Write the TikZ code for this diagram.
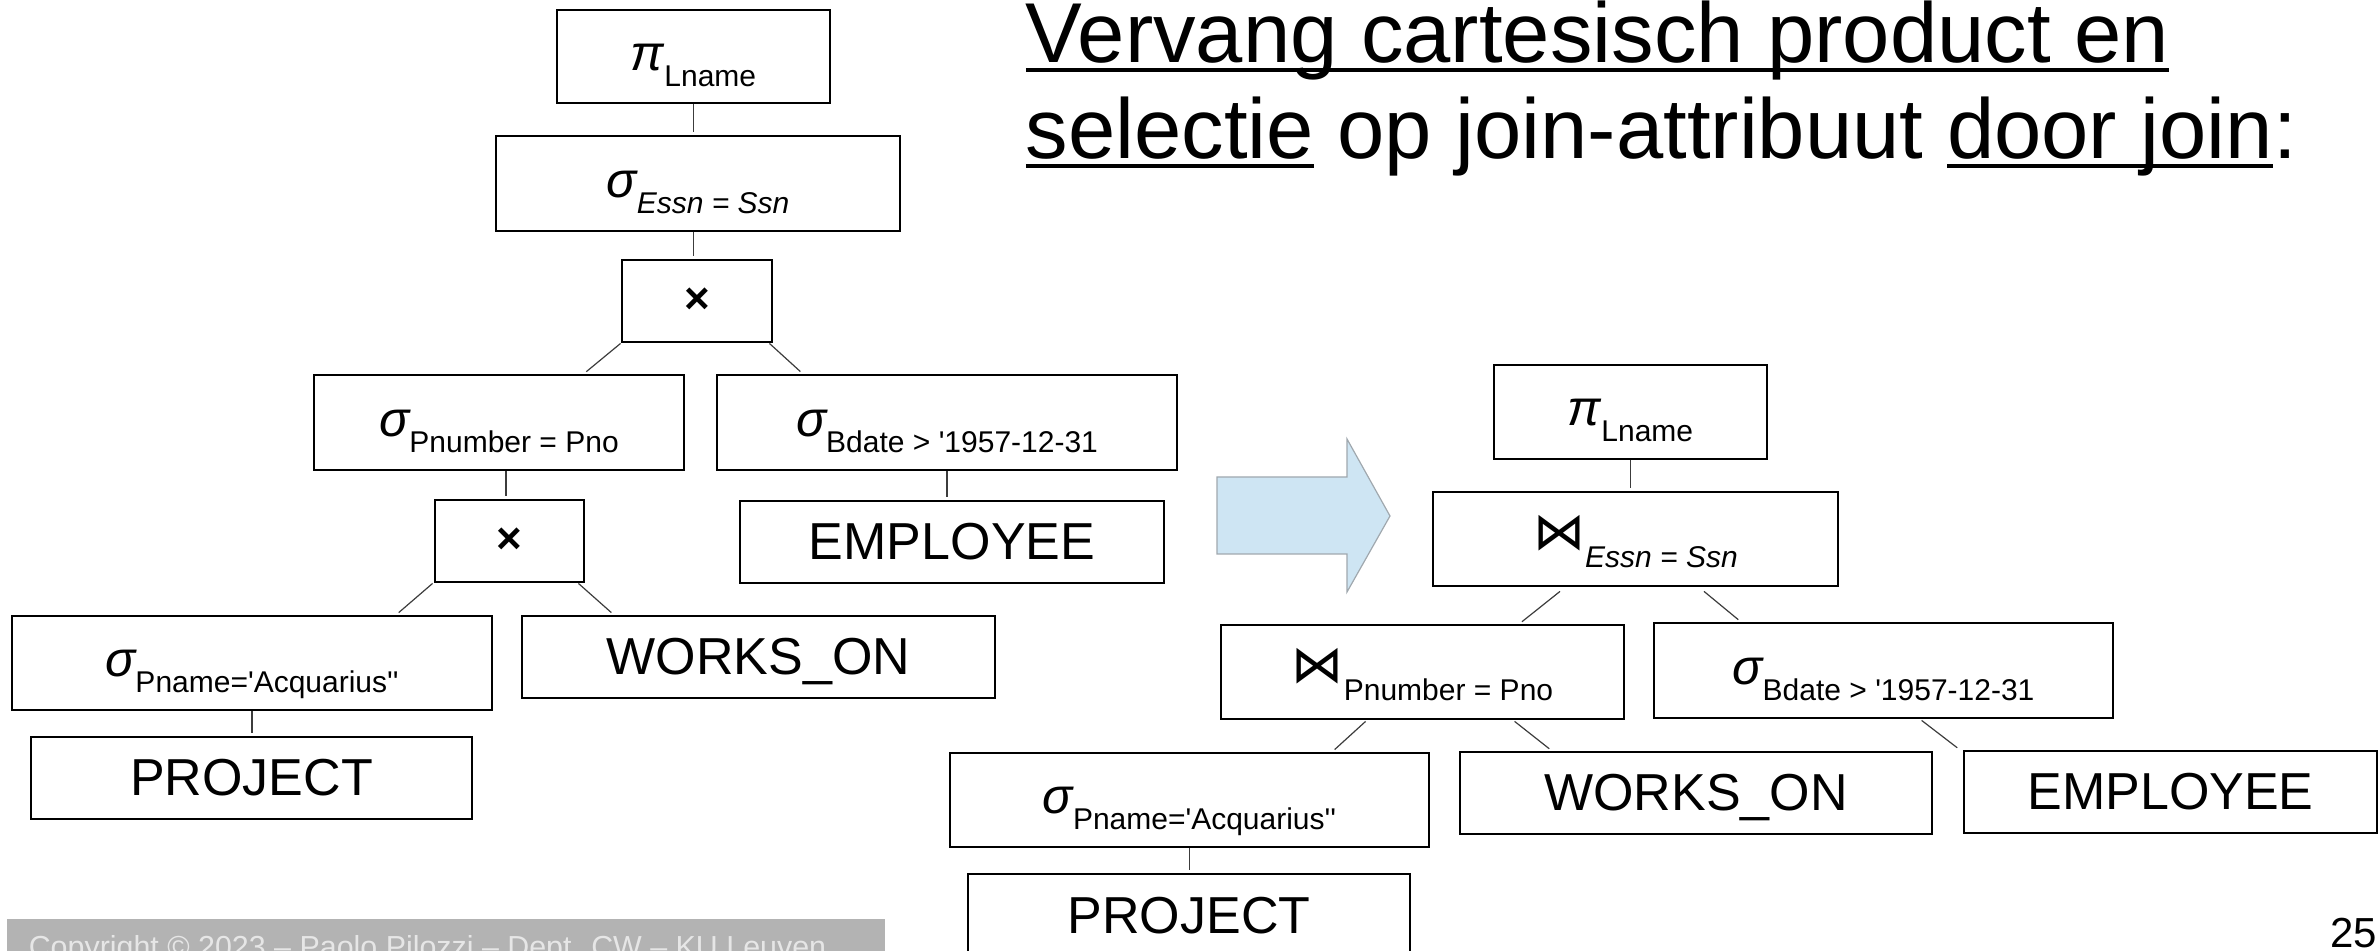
\documentclass[tikz,border=0pt]{standalone}
\usepackage{fontspec}
\usetikzlibrary{calc}
\newfontfamily\arial{Liberation Sans}
\newfontfamily\djv{DejaVu Sans}
\definecolor{arrowfill}{HTML}{CEE5F3}
\definecolor{arrowedge}{HTML}{A0A8AE}
\definecolor{barfill}{HTML}{B3B3B3}
\definecolor{bartext}{HTML}{E6E6E6}
\definecolor{linkgray}{HTML}{3C3C3C}
% underlined words of the heading
\newsavebox\ulbox
\newcommand\ul[1]{\sbox\ulbox{#1}\rlap{\rule[-2.2pt]{\wd\ulbox}{0.9pt}}\usebox\ulbox}
% operator symbol with its lowered condition
\newcommand\gsym[1]{{\fontsize{12.5}{14}\selectfont\itshape #1}}
\newcommand\gsub[1]{\raisebox{-4pt}{\fontsize{7.5}{9}\selectfont #1}}
\newcommand\jsym{{\fontsize{13}{15}\selectfont\djv ⋈}}
\newcommand\jsub[1]{\raisebox{-4.5pt}{\fontsize{7.5}{9}\selectfont #1}}
% box given by its corners: style, name, x1, y1, x2, y2, text
\newcommand\opbox[7]{\node[#1, minimum width={(#5-#3)*0.25pt}, minimum height={(#6-#4)*0.25pt}] (#2) at ({(#3+#5)/2},{(#4+#6)/2}) {#7};}
\tikzset{
  opbase/.style={draw=black, line width=0.7pt, inner sep=0pt, text depth=0pt, font=\arial},
  greekbox/.style={opbase, text height=7pt},
  joinbox/.style={opbase, text height=5.5pt},
  relbox/.style={opbase, text height=9pt, font=\arial\fontsize{13}{15}\selectfont},
  crossbox/.style={opbase, font=\arial\bfseries\fontsize{11}{13}\selectfont},
  link/.style={draw=linkgray, line width=0.3pt, shorten >=0.75pt},
}
\begin{document}
\begin{tikzpicture}[x=0.25pt, y=-0.25pt]
\useasboundingbox (0,0) rectangle (2379,951);
\clip (0,0) rectangle (2379,951);

% ---------- original query tree ----------
\opbox{greekbox}{piL}{557}{10}{830}{103}{\gsym{π}\gsub{Lname}}
\opbox{greekbox}{selE}{496}{136}{900}{231}{\gsym{σ}\gsub{\itshape Essn = Ssn}}
\opbox{crossbox}{prodA}{622}{260}{772}{342}{×}
\opbox{greekbox}{selPn}{314}{375}{684}{470}{\gsym{σ}\gsub{Pnumber = Pno}}
\opbox{greekbox}{selBd}{717}{375}{1177}{470}{\gsym{σ}\gsub{Bdate > '1957-12-31}}
\opbox{crossbox}{prodB}{435}{500}{584}{582}{×}
\opbox{relbox}{empL}{740}{501}{1164}{583}{EMPLOYEE}
\opbox{greekbox}{selPa}{12}{616}{492}{710}{\gsym{σ}\gsub{Pname='Acquarius''}}
\opbox{relbox}{worksL}{522}{616}{995}{698}{WORKS\_ON}
\opbox{relbox}{projL}{31}{737}{472}{819}{PROJECT}

\draw[link] (piL.south) -- (piL.south |- selE.north);
\draw[link] (selE.south -| piL.south) -- (prodA.north -| piL.south);
\draw[link] (prodA.south west) -- ($(selPn.north)+(85,0)$);
\draw[link] ($(prodA.south east)+(-4,0)$) -- ($(selBd.north west)+(87,0)$);
\coordinate (kPn) at ($(selPn.south)+(7,0)$);
\draw[link] (kPn) -- (kPn |- prodB.north);
\draw[link] (selBd.south) -- (selBd.south |- empL.north);
\draw[link] ($(prodB.south west)+(-1,0)$) -- ($(selPa.north east)+(-97,0)$);
\draw[link] ($(prodB.south east)+(-7,0)$) -- ($(worksL.north west)+(93,0)$);
\draw[link] (selPa.south) -- (selPa.south |- projL.north);

% ---------- transformation arrow ----------
\draw[fill=arrowfill, draw=arrowedge, line width=0.3pt]
  (1217,477) -- (1347,477) -- (1347,439) -- (1390,516) -- (1347,592) -- (1347,554) -- (1217,554) -- cycle;

% ---------- rewritten query tree ----------
\opbox{greekbox}{piR}{1494}{365}{1767}{459}{\gsym{π}\gsub{Lname}}
\opbox{joinbox}{joinE}{1433}{492}{1838}{586}{\jsym\jsub{\itshape Essn = Ssn}}
\opbox{joinbox}{joinP}{1221}{625}{1624}{719}{\jsym\jsub{Pnumber = Pno}}
\opbox{greekbox}{selBdR}{1654}{623}{2113}{718}{\gsym{σ}\gsub{Bdate > '1957-12-31}}
\opbox{greekbox}{selPaR}{950}{753}{1429}{847}{\gsym{σ}\gsub{Pname='Acquarius''}}
\opbox{relbox}{worksR}{1460}{752}{1932}{834}{WORKS\_ON}
\opbox{relbox}{empR}{1964}{751}{2377}{833}{EMPLOYEE}
\opbox{relbox}{projR}{968}{874}{1410}{956}{PROJECT}

\draw[link] (piR.south) -- (piR.south |- joinE.north);
\draw[link] ($(joinE.south)+(-75.5,4)$) -- ($(joinP.north west)+(300,0)$);
\draw[link] ($(joinE.south)+(68.5,4)$) -- ($(selBdR.north west)+(88,0)$);
\draw[link] ($(joinP.south west)+(146,1)$) -- ($(selPaR.north east)+(-98,0)$);
\draw[link] ($(joinP.south west)+(295,1)$) -- ($(worksR.north west)+(93,0)$);
\draw[link] ($(selBdR.south west)+(269,1)$) -- ($(empR.north west)+(-3,0)$);
\draw[link] (selPaR.south) -- (selPaR.south |- projR.north);

% ---------- heading ----------
\node[anchor=base west, inner sep=0pt, font=\arial\fontsize{21.25}{24}\selectfont] (titleA) at (1025,63)
  {\ul{Vervang cartesisch product en}};
\node[anchor=base west, inner sep=0pt, font=\arial\fontsize{21.25}{24}\selectfont] (titleB) at (1025,159)
  {\ul{selectie} op join-attribuut \ul{door join}:};

% ---------- footer ----------
\fill[barfill] (7,919) rectangle (885,960);
\node[anchor=base west, inner sep=0pt, text=bartext, font=\arial\fontsize{7.6}{9}\selectfont] (copyright) at (28,957)
  {Copyright © 2023 – Paolo Pilozzi – Dept. CW – KU Leuven};
\node[anchor=base east, inner sep=0pt, font=\arial\fontsize{10.5}{12}\selectfont] (pageno) at (2378,947) {25};
\end{tikzpicture}
\end{document}
